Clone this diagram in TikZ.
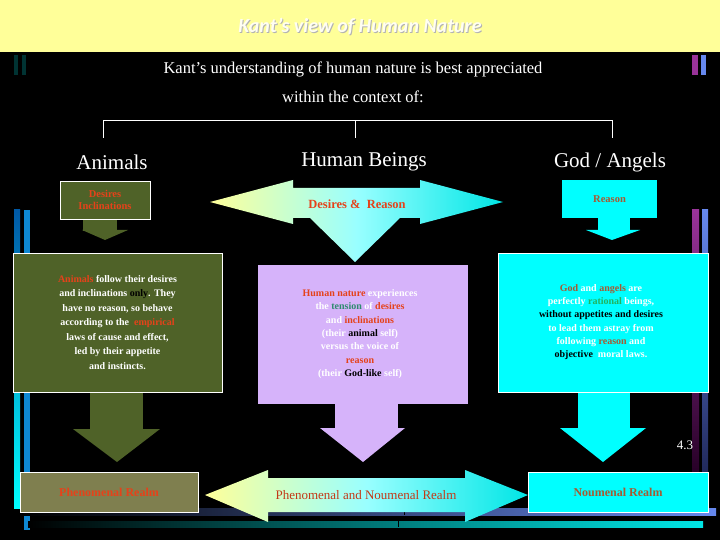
\documentclass[tikz,border=0pt]{standalone}
\usepackage{fontspec}
\setmainfont{Liberation Serif}
\newfontfamily\titlefont{Carlito}
\usetikzlibrary{shadings}
\definecolor{bandyellow}{HTML}{FFFF99}
\definecolor{olivegreen}{HTML}{4F6228}
\definecolor{realmolive}{HTML}{7F7F4F}
\definecolor{lilac}{HTML}{D6B3FA}
\definecolor{aqua}{HTML}{00FFFF}
\definecolor{redtxt}{HTML}{E5421A}
\definecolor{browntxt}{HTML}{A65A32}
\definecolor{teal2}{HTML}{2E8B6E}
\definecolor{greentxt}{HTML}{22B35E}
\definecolor{navy2}{HTML}{20285A}
\definecolor{blue2}{HTML}{6688EE}
\tikzset{
  heading/.style={text=white,font=\fontsize{21}{24}\selectfont},
  smallbox/.style={draw=white,line width=0.6pt,inner sep=2pt,align=center,font=\bfseries\fontsize{11}{13}\selectfont},
  bigtext/.style={align=center,font=\bfseries\fontsize{10}{14.5}\selectfont},
  conn/.style={white,line width=0.6pt},
  wh/.style={white}
}
\begin{document}
\begin{tikzpicture}[x=1pt,y=-1pt]
\useasboundingbox (0,0) rectangle (720,540);
\fill[black] (0,0) rectangle (720,540);
\fill[bandyellow] (0,0) rectangle (720,52);
\node (title) at (361,27) {\titlefont\bfseries\itshape\fontsize{20}{24}\selectfont\textcolor{gray!60}{Kant’s view of Human Nature}};
\node at (360,26) {\titlefont\bfseries\itshape\fontsize{20}{24}\selectfont\textcolor{white!95!yellow}{Kant’s view of Human Nature}};
% decorative bars
\fill[teal!40!black] (14,55) rectangle (18,75); \fill[teal!40!black] (22,55) rectangle (26,75);
\fill[violet!80!white] (692,55) rectangle (698,75); \fill[blue2] (701,55) rectangle (706,75);
\shade[top color=teal!70!blue,bottom color=cyan] (14,210) rectangle (20,508);
\fill[cyan!70!blue] (24,210) rectangle (30,530);
\shade[top color=violet!80!white,bottom color=violet!30!black] (692,210) rectangle (699,475);
\shade[top color=blue2,bottom color=navy2] (702,210) rectangle (708,475);
\shade[left color=black,right color=blue2] (20,508) rectangle (716,515);
\shade[left color=black,right color=cyan!80!teal] (28,521) rectangle (703,527);
\draw[black,line width=0.5pt] (404,508)--(404,515) (398,521)--(398,527);
% intro
\node[text=white,align=center,font=\fontsize{16.5}{29}\selectfont] (intro) at (353,82) {Kant’s understanding of human nature is best appreciated\\within the context of:};
\coordinate (bl) at (103,138); \coordinate (bm) at (355,138); \coordinate (br) at (612,138);
\draw[conn] (bl)--(103,120)--(612,120)--(br) (bm)--(355,120);
\node[heading] (h1) at (112,162) {Animals};
\node[heading] (h2) at (364,162) {Human Beings};
\node[heading] (h3) at (610,162) {God / Angels};
% left column
\fill[olivegreen] (83,220) rectangle (117,231);
\fill[olivegreen] (82,230)--(128,230)--(105,240)--cycle;
\node[smallbox,fill=olivegreen,text=redtxt,minimum width=90pt,minimum height=38pt,font=\bfseries\fontsize{10.5}{12.5}\selectfont] (di) at (105,200) {Desires\\Inclinations};
\fill[olivegreen] (90,390) rectangle (143,430);
\fill[olivegreen] (73,429)--(160,429)--(117,462)--cycle;
\node[draw=white,line width=0.6pt,fill=olivegreen,minimum width=209pt,minimum height=139pt,inner sep=0] (gbox) at (117.5,322.5) {};
\node[bigtext,text=white] (gtext) at (gbox) {\textcolor{redtxt}{Animals} follow their desires\\and inclinations \textcolor{black}{only}. They\\have no reason, so behave\\according to the \ \textcolor{redtxt}{empirical}\\laws of cause and effect,\\led by their appetite\\and instincts.};
\node[draw=white,line width=0.6pt,fill=realmolive,minimum width=178pt,minimum height=40pt,inner sep=0,text=redtxt,font=\bfseries\fontsize{12}{14}\selectfont] (pr) at (109,492) {Phenomenal Realm};
% middle column
\fill[lilac] (335,400) rectangle (398,430);
\fill[lilac] (320,428)--(405,428)--(363,462)--cycle;
\node[fill=lilac,minimum width=210pt,minimum height=139pt,inner sep=0] (pbox) at (363,334.5) {};
\node[bigtext,text=white,font=\bfseries\fontsize{10}{13.3}\selectfont] (ptext) at (360,334) {\textcolor{redtxt}{Human nature} experiences\\the \textcolor{teal2}{tension} of \textcolor{redtxt}{desires}\\and \textcolor{redtxt}{inclinations}\\(their \textcolor{black}{animal} self)\\versus the voice of\\\textcolor{redtxt}{reason}\\(their \textcolor{black}{God-like} self)};
\shade[left color=bandyellow,right color=aqua!80!teal,middle color=white!60!aqua] (210,202)--(293,180)--(293,188)--(420,188)--(420,180)--(503,202)--(420,224)--(420,218)--(400,218)--(355,262)--(310,218)--(293,218)--(293,224)--cycle;
\node[text=redtxt,font=\bfseries\fontsize{12.5}{15}\selectfont] (dr) at (357,204) {Desires \& \ Reason};
\shade[left color=bandyellow,right color=aqua!80!teal,middle color=white!60!aqua] (205,495)--(268,470)--(268,478)--(465,478)--(465,470)--(528,495)--(465,522)--(465,512)--(268,512)--(268,522)--cycle;
\node[text=redtxt!85!black,font=\fontsize{13}{15}\selectfont] (pnr) at (366,495) {Phenomenal and Noumenal Realm};
% right column
\fill[aqua] (598,218) rectangle (630,231);
\fill[aqua] (586,230)--(640,230)--(612,240)--cycle;
\node[fill=aqua,minimum width=95pt,minimum height=38pt,inner sep=0,text=browntxt,font=\bfseries\fontsize{10.5}{12.5}\selectfont] (rs) at (609.5,199) {Reason};
\fill[aqua] (578,390) rectangle (630,430);
\fill[aqua] (560,428)--(646,428)--(603,462)--cycle;
\node[draw=white,line width=0.6pt,fill=aqua,minimum width=210pt,minimum height=139pt,inner sep=0] (cbox) at (603,322.5) {};
\node[bigtext,text=white,font=\bfseries\fontsize{10}{13.3}\selectfont] (ctext) at (601,322) {\textcolor{browntxt}{God} and \textcolor{browntxt}{angels} are\\perfectly \textcolor{greentxt}{rational} beings,\\\textcolor{black}{without appetites and desires}\\to lead them astray from\\following \textcolor{browntxt}{reason} and\\\textcolor{black}{objective} \ moral laws.};
\node[draw=white,line width=0.6pt,fill=aqua,minimum width=180pt,minimum height=40pt,inner sep=0,text=browntxt,font=\bfseries\fontsize{12}{14}\selectfont] (nr) at (618,492) {Noumenal Realm};
\node[text=white,font=\fontsize{13}{15}\selectfont] (pg) at (685,445) {4.3};
\end{tikzpicture}
\end{document}
